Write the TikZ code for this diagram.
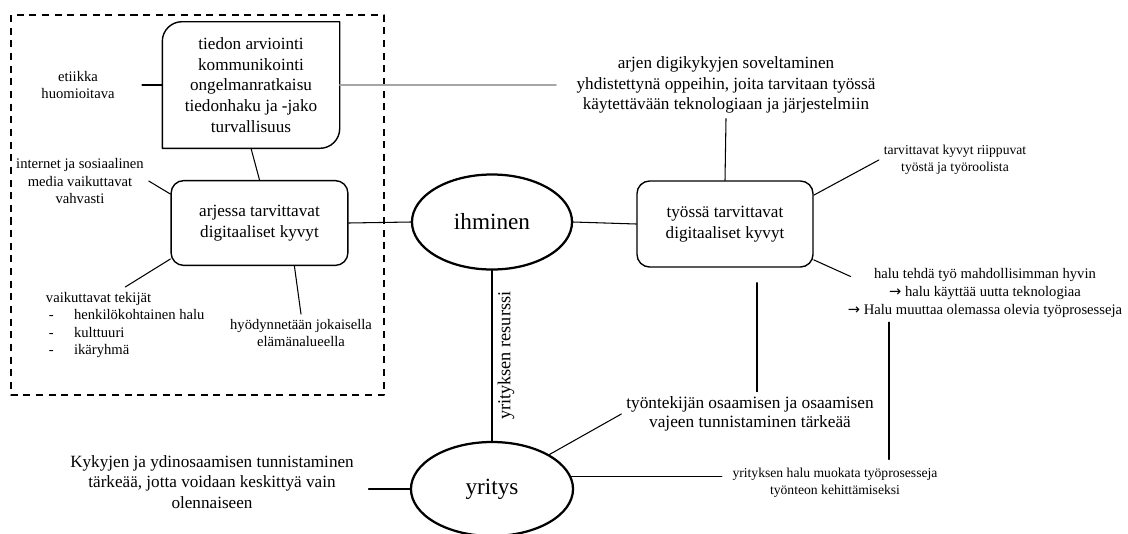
\documentclass[tikz,border=0pt]{standalone}
\usepackage{fontspec}
\setmainfont{Liberation Serif}
\newfontfamily\nuoli{DejaVu Sans}
\usetikzlibrary{shapes.geometric}
\begin{document}
\begin{tikzpicture}[x=0.025cm,y=0.025cm,line join=round,line cap=round,
		every node/.style={align=center},
		iso/.style={font=\fontsize{12.2}{14.8}\selectfont},
		pieni/.style={font=\fontsize{10.4}{12.5}\selectfont},
		pienempi/.style={font=\fontsize{9.7}{12}\selectfont},
		laatikko/.style={draw,line width=1pt,rounded corners=9pt,minimum width=4.42cm,minimum height=2.12cm,iso},
		soikio/.style={draw,ellipse,line width=1.6pt,font=\fontsize{16.5}{19}\selectfont},
		viiva/.style={line width=0.75pt}]
			\useasboundingbox (0,0) rectangle (1128,-533);
			\draw[line width=0.8pt,dash pattern=on 5pt off 4pt,line cap=butt] (11,-15) rectangle (384,-395);
			\node[iso,minimum width=4.42cm,minimum height=3.15cm] (tieto) at (251,-85) {tiedon arviointi\\kommunikointi\\ongelmanratkaisu\\tiedonhaku ja -jako\\turvallisuus};
			\draw[line width=1pt] (tieto.south west) -- ([yshift=-14pt]tieto.north west) arc[start angle=180,end angle=90,radius=14pt] -- (tieto.north east) -- ([yshift=14pt]tieto.south east) arc[start angle=0,end angle=-90,radius=14pt] -- cycle;
			\node[laatikko] (arki) at (259.5,-223) {arjessa tarvittavat\\digitaaliset kyvyt};
			\node[soikio,minimum width=4cm,minimum height=2.375cm] (ihminen) at (492,-222) {ihminen};
			\node[laatikko,minimum width=4.4cm,minimum height=2.15cm] (tyo) at (725,-224) {työssä tarvittavat\\digitaaliset kyvyt};
			\node[soikio,minimum width=4.05cm,minimum height=2.35cm] (yritys) at (492,-489) {yritys};
			\node[pieni] (etiikka) at (78,-85) {etiikka\\huomioitava};
			\node[pieni] (some) at (80,-181) {internet ja sosiaalinen\\media vaikuttavat\\vahvasti};
			\node[pieni,align=left,anchor=west] (tekijat) at (41,-325) {vaikuttavat tekijät\\\hspace*{2pt}\makebox[18pt][l]{-}henkilökohtainen halu\\\hspace*{2pt}\makebox[18pt][l]{-}kulttuuri\\\hspace*{2pt}\makebox[18pt][l]{-}ikäryhmä};
			\node[pieni] (hyoty) at (301,-333) {hyödynnetään jokaisella\\elämänalueella};
			\node[iso] (arjen) at (726,-85) {arjen digikykyjen soveltaminen\\yhdistettynä oppeihin, joita tarvitaan työssä\\käytettävään teknologiaan ja järjestelmiin};
			\node[pienempi] (riippuu) at (955,-160) {tarvittavat kyvyt riippuvat\\työstä ja työroolista};
			\node[pieni] (halu) at (985,-293) {halu tehdä työ mahdollisimman hyvin\\{\nuoli→} halu käyttää uutta teknologiaa\\{\nuoli→} Halu muuttaa olemassa olevia työprosesseja};
			\node[font=\fontsize{12.3}{13.6}\selectfont] (osaaminen) at (750,-414) {työntekijän osaamisen ja osaamisen\\vajeen tunnistaminen tärkeää};
			\node[pienempi] (muokkaus) at (835,-483) {yrityksen halu muokata työprosesseja\\työnteon kehittämiseksi};
			\node[iso] (ydin) at (212,-482) {Kykyjen ja ydinosaamisen tunnistaminen\\tärkeää, jotta voidaan keskittyä vain\\olennaiseen};
			\foreach \a/\b in {tieto.south/arki.north,arki.162/some.east,arki.202/tekijat.north,arki.-51/hyoty.north,arki.east/ihminen.west,ihminen.east/tyo.west,tyo.north/arjen.south,tyo.18/riippuu.west,yritys.31/osaaminen.west}
				\draw[viiva] (\a) -- (\b);
			\draw[viiva,shorten >=16pt] (tieto.west) -- (etiikka.east);
			\draw[viiva,gray!70,shorten >=11pt] (tieto.east) -- (arjen.west);
			\draw[viiva,shorten >=-6pt] (tyo.-22) -- (halu.172);
			\draw[viiva] ([shift={(32,-15)}]tyo.south) coordinate (tyoala) -- (tyoala |- osaaminen.north);
			\draw[viiva] ([shift={(54,4)}]muokkaus.north) coordinate (haluala) -- (haluala |- halu.south);
			\draw[viiva,shorten >=4pt] (yritys.9) -- (yritys.9 -| muokkaus.west);
			\draw[viiva,shorten >=7pt] (yritys.west) -- (yritys.west -| ydin.east);
			\draw[line width=1.4pt] (ihminen.south) -- node[rotate=90,anchor=north,font=\fontsize{13}{15}\selectfont] (resurssi) {yrityksen resurssi} (yritys.north);
		\end{tikzpicture}
\end{document}
